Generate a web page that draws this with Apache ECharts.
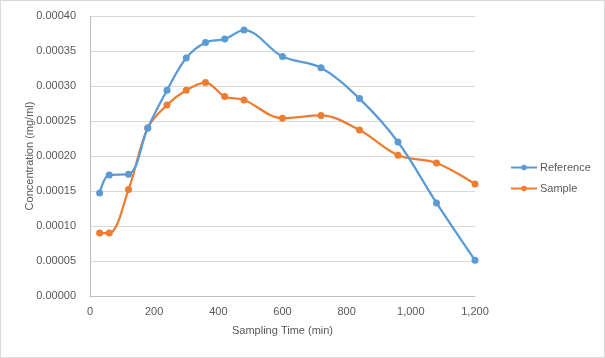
<!DOCTYPE html>
<html><head><meta charset="utf-8">
<script src="https://cdn.jsdelivr.net/npm/echarts@6/dist/echarts.min.js"></script>
<style>html,body{margin:0;padding:0;background:#fff}#c{width:605px;height:358px;box-sizing:border-box;border:1px solid #D9D9D9}</style>
</head><body><div id="c"></div>
<script>
const times = [30, 60, 120, 180, 240, 300, 360, 420, 480, 600, 720, 840, 960, 1080, 1200];
const reference = [0.000147, 0.000173, 0.000174, 0.000240, 0.000294, 0.000340, 0.000362, 0.000367, 0.000380, 0.000342, 0.000326, 0.000282, 0.000220, 0.000133, 0.000051];
const sample = [0.000090, 0.000090, 0.000152, 0.000240, 0.000273, 0.000294, 0.000305, 0.000285, 0.000280, 0.000254, 0.000258, 0.000237, 0.000201, 0.000190, 0.000160];
const seriesNames = ['Reference', 'Sample'];
const xTitle = 'Sampling Time (min)';
const yTitle = 'Concentration (mg/ml)';

const font = 'Liberation Sans, Arial, sans-serif';
const txt = '#595959';
const chart = echarts.init(document.getElementById('c'));
const mk = (name, vals, color) => ({
  name, type: 'line', smooth: 0.35,
  data: times.map((t, i) => [t, vals[i]]),
  symbol: 'circle', symbolSize: 7,
  lineStyle: { color, width: 2.25 },
  itemStyle: { color },
  z: name === 'Reference' ? 3 : 2
});
chart.setOption({
  animation: false,
  textStyle: { fontFamily: font },
  grid: { left: 89, right: 129, top: 15, bottom: 61 },
  legend: {
    orient: 'vertical', left: 504, top: 156, itemGap: 10,
    itemWidth: 26, itemHeight: 7,
    textStyle: { color: txt, fontSize: 11, fontFamily: font, padding: [0, 0, 0, -2] },
    data: seriesNames
  },
  xAxis: {
    type: 'value', min: 0, max: 1200, interval: 200,
    name: xTitle, nameLocation: 'middle', nameGap: 29, nameMoveOverlap: false,
    nameTextStyle: { color: txt, fontSize: 11, fontFamily: font },
    axisLine: { show: true, lineStyle: { color: '#BFBFBF', width: 1 } },
    axisTick: { show: false },
    splitLine: { show: false },
    axisLabel: { color: txt, fontSize: 11, margin: 10,
      formatter: v => v.toLocaleString('en-US') }
  },
  yAxis: {
    type: 'value', min: 0, max: 0.0004, interval: 0.00005,
    name: yTitle, nameLocation: 'middle', nameGap: 55, nameMoveOverlap: false,
    nameTextStyle: { color: txt, fontSize: 11, fontFamily: font },
    axisLine: { show: true, lineStyle: { color: '#BFBFBF', width: 1 } },
    axisTick: { show: false },
    splitLine: { lineStyle: { color: '#D9D9D9', width: 1 } },
    axisLabel: { color: txt, fontSize: 11, margin: 14,
      formatter: v => v.toFixed(5) }
  },
  series: [mk('Sample', sample, '#ED7D31'), mk('Reference', reference, '#5B9BD5')]
});
</script></body></html>
